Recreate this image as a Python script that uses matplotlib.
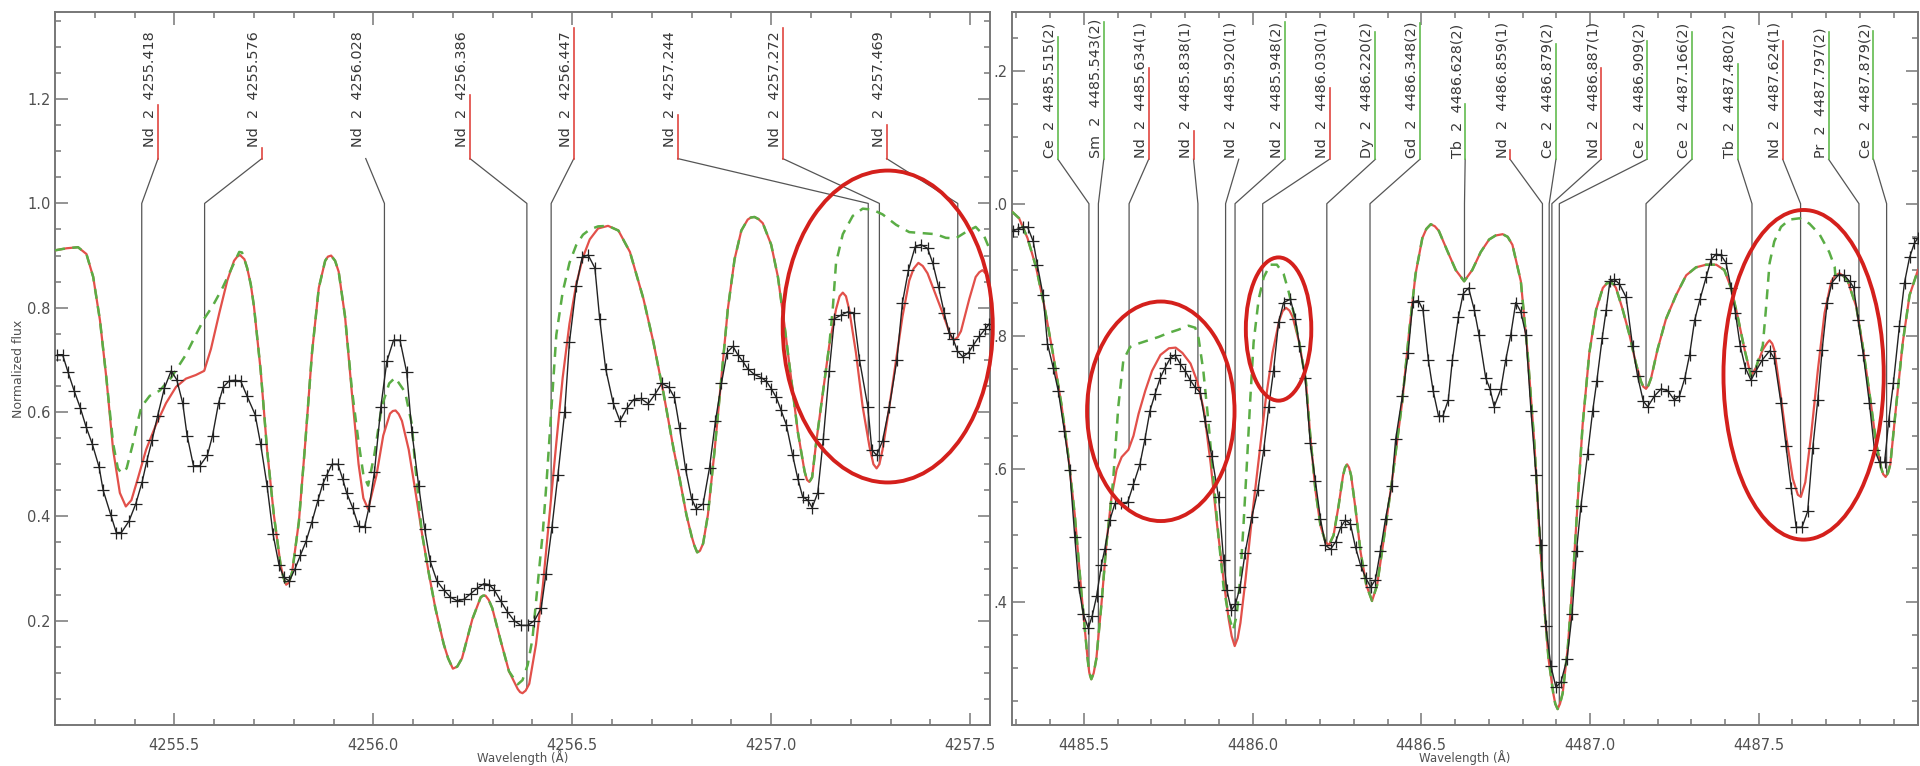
import numpy as np
import matplotlib
matplotlib.use("Agg")
import matplotlib.pyplot as plt
from matplotlib.patches import Ellipse
from matplotlib.ticker import MultipleLocator, FixedLocator, FixedFormatter
import matplotlib.transforms as mtransforms

# ---------------- left panel (4255-4257 A) ----------------
left_obs = np.array([
    [4255.206, 0.710], [4255.219, 0.710], [4255.233, 0.676], [4255.248, 0.641], [4255.264, 0.607],
    [4255.278, 0.572], [4255.294, 0.538], [4255.311, 0.494], [4255.321, 0.450], [4255.340, 0.403],
    [4255.354, 0.369], [4255.367, 0.369], [4255.386, 0.391], [4255.403, 0.424], [4255.419, 0.466],
    [4255.431, 0.507], [4255.444, 0.546], [4255.458, 0.593], [4255.475, 0.646], [4255.492, 0.679],
    [4255.506, 0.662], [4255.521, 0.617], [4255.532, 0.555], [4255.548, 0.497], [4255.564, 0.497],
    [4255.583, 0.517], [4255.596, 0.555], [4255.611, 0.617], [4255.623, 0.648], [4255.638, 0.660],
    [4255.653, 0.661], [4255.667, 0.659], [4255.683, 0.630], [4255.703, 0.595], [4255.717, 0.538],
    [4255.733, 0.459], [4255.748, 0.366], [4255.763, 0.307], [4255.775, 0.283], [4255.789, 0.276],
    [4255.803, 0.299], [4255.817, 0.326], [4255.831, 0.352], [4255.846, 0.390], [4255.861, 0.431],
    [4255.873, 0.462], [4255.883, 0.479], [4255.896, 0.500], [4255.911, 0.500], [4255.923, 0.472],
    [4255.933, 0.445], [4255.948, 0.417], [4255.963, 0.381], [4255.978, 0.379], [4255.990, 0.420],
    [4256.003, 0.486], [4256.019, 0.610], [4256.034, 0.697], [4256.051, 0.738], [4256.067, 0.738],
    [4256.084, 0.676], [4256.097, 0.562], [4256.114, 0.459], [4256.129, 0.376], [4256.143, 0.314],
    [4256.160, 0.276], [4256.177, 0.259], [4256.194, 0.245], [4256.211, 0.238], [4256.228, 0.241],
    [4256.245, 0.252], [4256.261, 0.262], [4256.278, 0.271], [4256.291, 0.269], [4256.304, 0.259],
    [4256.320, 0.238], [4256.337, 0.217], [4256.354, 0.200], [4256.371, 0.191], [4256.388, 0.191],
    [4256.405, 0.200], [4256.422, 0.224], [4256.434, 0.290], [4256.449, 0.379], [4256.464, 0.479],
    [4256.481, 0.600], [4256.493, 0.734], [4256.510, 0.841], [4256.525, 0.897], [4256.540, 0.901],
    [4256.557, 0.876], [4256.569, 0.779], [4256.584, 0.683], [4256.603, 0.617], [4256.620, 0.583],
    [4256.637, 0.607], [4256.654, 0.624], [4256.672, 0.626], [4256.691, 0.616], [4256.708, 0.634],
    [4256.725, 0.655], [4256.742, 0.648], [4256.757, 0.628], [4256.770, 0.569], [4256.785, 0.490],
    [4256.800, 0.434], [4256.812, 0.414], [4256.829, 0.424], [4256.845, 0.493], [4256.860, 0.583],
    [4256.875, 0.655], [4256.889, 0.714], [4256.904, 0.726], [4256.916, 0.710], [4256.929, 0.697],
    [4256.941, 0.683], [4256.958, 0.672], [4256.975, 0.666], [4256.988, 0.659], [4257.000, 0.645],
    [4257.013, 0.628], [4257.025, 0.603], [4257.038, 0.576], [4257.054, 0.517], [4257.067, 0.472],
    [4257.079, 0.438], [4257.092, 0.431], [4257.103, 0.417], [4257.117, 0.445], [4257.131, 0.548],
    [4257.146, 0.679], [4257.159, 0.779], [4257.176, 0.786], [4257.192, 0.792], [4257.207, 0.790],
    [4257.222, 0.700], [4257.243, 0.610], [4257.253, 0.528], [4257.265, 0.517], [4257.280, 0.545],
    [4257.297, 0.610], [4257.316, 0.700], [4257.330, 0.810], [4257.345, 0.872], [4257.362, 0.917],
    [4257.376, 0.921], [4257.393, 0.914], [4257.406, 0.886], [4257.421, 0.839], [4257.435, 0.790],
    [4257.447, 0.752], [4257.457, 0.741], [4257.468, 0.717], [4257.482, 0.706], [4257.496, 0.714],
    [4257.508, 0.728], [4257.523, 0.745], [4257.538, 0.759], [4257.548, 0.769]])

# synthetic spectrum with Nd (solid red)
left_red = np.array([
    [4255.200, 0.910], [4255.229, 0.914], [4255.258, 0.916], [4255.279, 0.903], [4255.296, 0.859],
    [4255.313, 0.776], [4255.329, 0.666], [4255.346, 0.528], [4255.363, 0.445], [4255.378, 0.419],
    [4255.392, 0.431], [4255.408, 0.472], [4255.429, 0.528], [4255.454, 0.576], [4255.479, 0.617],
    [4255.504, 0.648], [4255.529, 0.664], [4255.554, 0.671], [4255.575, 0.679], [4255.592, 0.721],
    [4255.613, 0.790], [4255.633, 0.852], [4255.650, 0.890], [4255.658, 0.898], [4255.665, 0.901],
    [4255.676, 0.893], [4255.683, 0.876], [4255.692, 0.845], [4255.700, 0.803], [4255.717, 0.679],
    [4255.733, 0.528], [4255.750, 0.403], [4255.767, 0.307], [4255.774, 0.283], [4255.781, 0.269],
    [4255.788, 0.273], [4255.796, 0.293], [4255.813, 0.390], [4255.829, 0.541], [4255.846, 0.714],
    [4255.863, 0.838], [4255.879, 0.890], [4255.886, 0.898], [4255.894, 0.900], [4255.904, 0.890],
    [4255.913, 0.869], [4255.929, 0.783], [4255.946, 0.638], [4255.963, 0.500], [4255.975, 0.435],
    [4255.987, 0.414], [4256.008, 0.479], [4256.025, 0.555], [4256.042, 0.597], [4256.049, 0.602],
    [4256.056, 0.603], [4256.064, 0.596], [4256.072, 0.583], [4256.089, 0.528], [4256.105, 0.452],
    [4256.122, 0.369], [4256.139, 0.293], [4256.156, 0.224], [4256.177, 0.155], [4256.188, 0.128],
    [4256.200, 0.108], [4256.211, 0.112], [4256.223, 0.128], [4256.249, 0.203], [4256.270, 0.245],
    [4256.276, 0.248], [4256.282, 0.248], [4256.290, 0.240], [4256.299, 0.224], [4256.320, 0.162],
    [4256.341, 0.103], [4256.363, 0.069], [4256.369, 0.063], [4256.375, 0.061], [4256.383, 0.066],
    [4256.392, 0.079], [4256.409, 0.155], [4256.426, 0.266], [4256.443, 0.403], [4256.460, 0.541],
    [4256.476, 0.666], [4256.493, 0.769], [4256.510, 0.845], [4256.527, 0.897], [4256.544, 0.931],
    [4256.565, 0.952], [4256.590, 0.957], [4256.616, 0.948], [4256.645, 0.907], [4256.679, 0.817],
    [4256.704, 0.734], [4256.729, 0.638], [4256.755, 0.528], [4256.770, 0.472], [4256.787, 0.403],
    [4256.800, 0.362], [4256.807, 0.344], [4256.814, 0.331], [4256.821, 0.334], [4256.829, 0.348],
    [4256.841, 0.403], [4256.858, 0.528], [4256.875, 0.666], [4256.891, 0.797], [4256.908, 0.893],
    [4256.925, 0.948], [4256.941, 0.969], [4256.949, 0.973], [4256.958, 0.974], [4256.968, 0.970],
    [4256.979, 0.962], [4257.000, 0.921], [4257.017, 0.859], [4257.033, 0.769], [4257.050, 0.666],
    [4257.067, 0.562], [4257.084, 0.486], [4257.090, 0.470], [4257.096, 0.466], [4257.103, 0.475],
    [4257.113, 0.541], [4257.130, 0.638], [4257.146, 0.728], [4257.163, 0.797], [4257.172, 0.822],
    [4257.180, 0.829], [4257.188, 0.822], [4257.196, 0.797], [4257.213, 0.714], [4257.230, 0.610],
    [4257.247, 0.534], [4257.257, 0.500], [4257.265, 0.492], [4257.272, 0.500], [4257.280, 0.528],
    [4257.297, 0.610], [4257.314, 0.700], [4257.330, 0.783], [4257.347, 0.852], [4257.358, 0.875],
    [4257.370, 0.886], [4257.381, 0.880], [4257.393, 0.866], [4257.414, 0.824], [4257.431, 0.790],
    [4257.447, 0.755], [4257.454, 0.742], [4257.460, 0.738], [4257.468, 0.743], [4257.477, 0.755],
    [4257.498, 0.817], [4257.514, 0.859], [4257.523, 0.868], [4257.531, 0.872], [4257.539, 0.866],
    [4257.548, 0.852]])

# synthetic spectrum without Nd (green dashed) where it departs from the red one
left_grn_parts = [
    np.array([[4255.346, 0.540], [4255.358, 0.492], [4255.367, 0.483], [4255.380, 0.492],
              [4255.396, 0.540], [4255.404, 0.569], [4255.417, 0.610], [4255.438, 0.631],
              [4255.463, 0.641], [4255.492, 0.666], [4255.529, 0.710], [4255.554, 0.748],
              [4255.575, 0.779], [4255.596, 0.803], [4255.621, 0.838], [4255.646, 0.879],
              [4255.663, 0.907], [4255.670, 0.906]]),
    np.array([[4255.946, 0.645], [4255.962, 0.548], [4255.975, 0.480], [4255.987, 0.459],
              [4256.003, 0.520], [4256.021, 0.610], [4256.040, 0.655], [4256.055, 0.666],
              [4256.080, 0.638], [4256.097, 0.576], [4256.105, 0.500], [4256.114, 0.430]]),
    np.array([[4256.363, 0.078], [4256.375, 0.086], [4256.388, 0.115], [4256.400, 0.165],
              [4256.417, 0.300], [4256.426, 0.369], [4256.436, 0.472], [4256.448, 0.610],
              [4256.460, 0.748], [4256.476, 0.830], [4256.493, 0.886], [4256.510, 0.920],
              [4256.527, 0.940], [4256.544, 0.950], [4256.565, 0.956]]),
    np.array([[4257.150, 0.760], [4257.155, 0.800], [4257.163, 0.886], [4257.180, 0.941],
              [4257.205, 0.976], [4257.230, 0.990], [4257.255, 0.988], [4257.280, 0.979],
              [4257.314, 0.959], [4257.347, 0.945], [4257.380, 0.943], [4257.414, 0.941],
              [4257.439, 0.934], [4257.464, 0.933], [4257.489, 0.945], [4257.514, 0.955],
              [4257.535, 0.938], [4257.548, 0.914]]),
]

left_line_wl = [4255.418, 4255.576, 4256.028, 4256.386, 4256.447, 4257.244, 4257.272, 4257.469]
left_line_species = ["Nd"] * 8
left_label_x = [4255.459, 4255.720, 4255.981, 4256.243, 4256.504, 4256.765, 4257.029, 4257.290]
left_tick_top = [1.189, 1.107, 1.086, 1.208, 1.336, 1.170, 1.336, 1.151]

# ---------------- right panel (4485-4488 A) ----------------
right_obs = np.array([
    [4485.290, 0.959], [4485.305, 0.962], [4485.320, 0.965], [4485.333, 0.965], [4485.350, 0.943],
    [4485.362, 0.908], [4485.379, 0.862], [4485.392, 0.789], [4485.409, 0.753], [4485.424, 0.718],
    [4485.442, 0.658], [4485.458, 0.599], [4485.473, 0.498], [4485.485, 0.422], [4485.498, 0.382],
    [4485.513, 0.360], [4485.525, 0.379], [4485.538, 0.409], [4485.552, 0.455], [4485.562, 0.479],
    [4485.577, 0.523], [4485.592, 0.548], [4485.610, 0.548], [4485.630, 0.550], [4485.647, 0.577],
    [4485.666, 0.607], [4485.681, 0.645], [4485.696, 0.688], [4485.711, 0.713], [4485.726, 0.737],
    [4485.741, 0.753], [4485.756, 0.767], [4485.770, 0.772], [4485.785, 0.759], [4485.800, 0.748],
    [4485.815, 0.734], [4485.830, 0.723], [4485.845, 0.715], [4485.859, 0.672], [4485.879, 0.620],
    [4485.899, 0.558], [4485.914, 0.463], [4485.924, 0.417], [4485.937, 0.387], [4485.949, 0.396],
    [4485.963, 0.422], [4485.978, 0.474], [4485.998, 0.528], [4486.016, 0.569], [4486.033, 0.629],
    [4486.048, 0.694], [4486.062, 0.748], [4486.077, 0.821], [4486.092, 0.851], [4486.112, 0.856],
    [4486.127, 0.826], [4486.139, 0.786], [4486.156, 0.737], [4486.171, 0.639], [4486.186, 0.582],
    [4486.201, 0.525], [4486.216, 0.485], [4486.231, 0.479], [4486.246, 0.490], [4486.261, 0.512],
    [4486.275, 0.523], [4486.290, 0.517], [4486.305, 0.482], [4486.320, 0.455], [4486.335, 0.436],
    [4486.350, 0.422], [4486.364, 0.433], [4486.379, 0.477], [4486.394, 0.525], [4486.412, 0.574],
    [4486.424, 0.645], [4486.444, 0.710], [4486.461, 0.775], [4486.475, 0.852], [4486.491, 0.854],
    [4486.505, 0.840], [4486.521, 0.764], [4486.535, 0.718], [4486.551, 0.680], [4486.564, 0.680],
    [4486.580, 0.704], [4486.592, 0.764], [4486.610, 0.829], [4486.624, 0.864], [4486.640, 0.873],
    [4486.657, 0.840], [4486.671, 0.802], [4486.691, 0.737], [4486.704, 0.720], [4486.716, 0.694],
    [4486.736, 0.721], [4486.750, 0.764], [4486.765, 0.802], [4486.780, 0.851], [4486.795, 0.837],
    [4486.810, 0.802], [4486.825, 0.688], [4486.840, 0.591], [4486.854, 0.485], [4486.869, 0.363],
    [4486.884, 0.303], [4486.899, 0.271], [4486.914, 0.279], [4486.932, 0.314], [4486.947, 0.382],
    [4486.960, 0.477], [4486.973, 0.544], [4486.993, 0.623], [4487.008, 0.688], [4487.020, 0.732],
    [4487.036, 0.797], [4487.048, 0.840], [4487.059, 0.883], [4487.072, 0.886], [4487.087, 0.879],
    [4487.107, 0.859], [4487.126, 0.786], [4487.141, 0.740], [4487.158, 0.702], [4487.171, 0.694],
    [4487.191, 0.710], [4487.211, 0.721], [4487.230, 0.718], [4487.250, 0.704], [4487.265, 0.710],
    [4487.281, 0.737], [4487.295, 0.772], [4487.310, 0.824], [4487.326, 0.856], [4487.344, 0.889],
    [4487.359, 0.916], [4487.374, 0.924], [4487.388, 0.922], [4487.403, 0.911], [4487.418, 0.873],
    [4487.431, 0.835], [4487.445, 0.786], [4487.460, 0.753], [4487.477, 0.734], [4487.492, 0.748],
    [4487.510, 0.764], [4487.532, 0.778], [4487.546, 0.767], [4487.566, 0.699], [4487.581, 0.634],
    [4487.596, 0.572], [4487.611, 0.512], [4487.628, 0.512], [4487.645, 0.536], [4487.660, 0.631],
    [4487.675, 0.704], [4487.688, 0.780], [4487.703, 0.851], [4487.717, 0.881], [4487.737, 0.893],
    [4487.754, 0.892], [4487.769, 0.883], [4487.781, 0.874], [4487.795, 0.824], [4487.810, 0.772],
    [4487.828, 0.699], [4487.843, 0.629], [4487.858, 0.610], [4487.873, 0.610], [4487.885, 0.672],
    [4487.899, 0.729], [4487.917, 0.816], [4487.932, 0.881], [4487.947, 0.919], [4487.961, 0.940],
    [4487.971, 0.948]])

right_red = np.array([
    [4485.287, 0.988], [4485.308, 0.978], [4485.333, 0.948], [4485.358, 0.905], [4485.383, 0.845],
    [4485.408, 0.775], [4485.433, 0.699], [4485.453, 0.623], [4485.473, 0.531], [4485.493, 0.412],
    [4485.511, 0.314], [4485.516, 0.293], [4485.522, 0.283], [4485.529, 0.292], [4485.537, 0.314],
    [4485.552, 0.396], [4485.567, 0.488], [4485.582, 0.558], [4485.597, 0.599], [4485.612, 0.618],
    [4485.632, 0.629], [4485.647, 0.650], [4485.662, 0.683], [4485.682, 0.718], [4485.702, 0.748],
    [4485.727, 0.772], [4485.752, 0.782], [4485.772, 0.783], [4485.792, 0.775], [4485.816, 0.759],
    [4485.836, 0.732], [4485.856, 0.688], [4485.876, 0.607], [4485.895, 0.515], [4485.914, 0.433],
    [4485.929, 0.374], [4485.938, 0.348], [4485.947, 0.333], [4485.956, 0.345], [4485.964, 0.368],
    [4485.979, 0.433], [4485.999, 0.531], [4486.019, 0.618], [4486.039, 0.705], [4486.059, 0.775],
    [4486.079, 0.824], [4486.089, 0.838], [4486.099, 0.843], [4486.109, 0.839], [4486.119, 0.829],
    [4486.138, 0.791], [4486.158, 0.732], [4486.171, 0.650], [4486.186, 0.569], [4486.201, 0.515],
    [4486.216, 0.490], [4486.226, 0.485], [4486.240, 0.500], [4486.255, 0.545], [4486.268, 0.590],
    [4486.274, 0.602], [4486.280, 0.607], [4486.286, 0.602], [4486.292, 0.590], [4486.305, 0.540],
    [4486.320, 0.475], [4486.337, 0.425], [4486.354, 0.401], [4486.369, 0.425], [4486.384, 0.477],
    [4486.414, 0.585], [4486.444, 0.704], [4486.463, 0.802], [4486.483, 0.894], [4486.503, 0.948],
    [4486.515, 0.962], [4486.528, 0.969], [4486.540, 0.966], [4486.552, 0.959], [4486.577, 0.929],
    [4486.602, 0.900], [4486.627, 0.883], [4486.651, 0.900], [4486.676, 0.927], [4486.701, 0.946],
    [4486.720, 0.952], [4486.741, 0.954], [4486.756, 0.950], [4486.770, 0.938], [4486.795, 0.883],
    [4486.815, 0.775], [4486.835, 0.639], [4486.850, 0.504], [4486.864, 0.396], [4486.877, 0.314],
    [4486.891, 0.262], [4486.897, 0.246], [4486.904, 0.238], [4486.911, 0.246], [4486.919, 0.262],
    [4486.934, 0.330], [4486.949, 0.433], [4486.963, 0.547], [4486.978, 0.666], [4486.998, 0.775],
    [4487.018, 0.840], [4487.038, 0.873], [4487.050, 0.880], [4487.062, 0.881], [4487.070, 0.878],
    [4487.077, 0.873], [4487.097, 0.840], [4487.117, 0.802], [4487.136, 0.759], [4487.151, 0.732],
    [4487.158, 0.724], [4487.166, 0.721], [4487.173, 0.726], [4487.181, 0.737], [4487.200, 0.780],
    [4487.225, 0.826], [4487.255, 0.862], [4487.285, 0.892], [4487.314, 0.904], [4487.344, 0.908],
    [4487.374, 0.908], [4487.398, 0.900], [4487.418, 0.873], [4487.438, 0.829], [4487.458, 0.780],
    [4487.477, 0.740], [4487.492, 0.753], [4487.512, 0.780], [4487.525, 0.790], [4487.532, 0.794],
    [4487.540, 0.789], [4487.546, 0.780], [4487.561, 0.726], [4487.581, 0.650], [4487.601, 0.585],
    [4487.616, 0.561], [4487.625, 0.558], [4487.638, 0.580], [4487.655, 0.650], [4487.675, 0.748],
    [4487.695, 0.835], [4487.715, 0.883], [4487.727, 0.892], [4487.739, 0.895], [4487.751, 0.891],
    [4487.764, 0.883], [4487.789, 0.845], [4487.808, 0.786], [4487.828, 0.715], [4487.848, 0.639],
    [4487.863, 0.601], [4487.869, 0.592], [4487.876, 0.588], [4487.883, 0.594], [4487.890, 0.607],
    [4487.907, 0.694], [4487.927, 0.791], [4487.947, 0.862], [4487.972, 0.900]])

right_grn_parts = [
    np.array([[4485.587, 0.585], [4485.602, 0.694], [4485.617, 0.764], [4485.637, 0.784],
              [4485.661, 0.789], [4485.691, 0.794], [4485.721, 0.799], [4485.750, 0.805],
              [4485.780, 0.810], [4485.810, 0.816], [4485.830, 0.813], [4485.840, 0.797],
              [4485.854, 0.748], [4485.869, 0.672], [4485.884, 0.585], [4485.899, 0.498],
              [4485.914, 0.422], [4485.929, 0.379], [4485.942, 0.357], [4485.953, 0.379],
              [4485.963, 0.433], [4485.973, 0.515], [4485.983, 0.607], [4485.993, 0.704],
              [4486.003, 0.791], [4486.018, 0.856], [4486.033, 0.889], [4486.052, 0.908],
              [4486.072, 0.908], [4486.092, 0.894], [4486.107, 0.867], [4486.122, 0.835],
              [4486.130, 0.812]]),
    np.array([[4487.512, 0.786], [4487.522, 0.845], [4487.532, 0.910], [4487.546, 0.943],
              [4487.566, 0.965], [4487.591, 0.976], [4487.621, 0.978], [4487.650, 0.970],
              [4487.680, 0.954], [4487.709, 0.927], [4487.725, 0.905]]),
]

right_line_wl = [4485.515, 4485.543, 4485.634, 4485.838, 4485.920, 4485.948, 4486.030, 4486.220,
                 4486.348, 4486.628, 4486.859, 4486.879, 4486.887, 4486.909, 4487.166, 4487.480,
                 4487.624, 4487.797, 4487.879]
right_line_species = ["Ce", "Sm", "Nd", "Nd", "Nd", "Nd", "Nd", "Dy", "Gd", "Tb", "Nd", "Ce",
                      "Nd", "Ce", "Ce", "Tb", "Nd", "Pr", "Ce"]
right_line_flag = [2, 2, 1, 1, 1, 2, 1, 2, 2, 2, 1, 2, 1, 2, 2, 2, 1, 2, 2]
right_label_x = [4485.423, 4485.559, 4485.692, 4485.825, 4485.959, 4486.095, 4486.228, 4486.364,
                 4486.496, 4486.630, 4486.763, 4486.899, 4487.033, 4487.169, 4487.302, 4487.438,
                 4487.571, 4487.707, 4487.840]
right_tick_top = [1.251, 1.274, 1.204, 1.109, 1.067, 1.274, 1.174, 1.259, 1.272, 1.151, 1.081,
                  1.241, 1.204, 1.246, 1.259, 1.211, 1.246, 1.259, 1.261]

left_xticks = [4255.5, 4256.0, 4256.5, 4257.0, 4257.5]
left_xticklabels = ["4255.5", "4256.0", "4256.5", "4257.0", "4257.5"]
left_yticks = [0.2, 0.4, 0.6, 0.8, 1.0, 1.2]
left_yticklabels = ["0.2", "0.4", "0.6", "0.8", "1.0", "1.2"]
right_xticks = [4485.5, 4486.0, 4486.5, 4487.0, 4487.5]
right_xticklabels = ["4485.5", "4486.0", "4486.5", "4487.0", "4487.5"]
right_yticks = [0.4, 0.6, 0.8, 1.0, 1.2]
right_yticklabels = [".4", ".6", ".8", ".0", ".2"]

# hand-drawn circles: (centre x, centre y, width, height) in data units
left_circles = [(4257.293, 0.764, 0.528, 0.598)]
right_circles = [(4485.728, 0.687, 0.437, 0.331),
                 (4486.077, 0.811, 0.194, 0.216),
                 (4487.633, 0.742, 0.475, 0.497)]

RED = "#e2504a"
GREEN = "#5aad45"
TICK_RED = "#e0463f"
TICK_GREEN = "#62bb4f"
GREY = "#555555"
CIRCLE = "#d4201c"

fig = plt.figure(figsize=(19.2, 7.66), dpi=100)
axL = fig.add_axes([55 / 1920, 41 / 766, 935 / 1920, 713 / 766])
axR = fig.add_axes([1012 / 1920, 41 / 766, 906 / 1920, 713 / 766])


def merge_green(red, parts):
    # green follows the red curve except inside the windows where it was read separately
    keep = np.ones(len(red), dtype=bool)
    for p in parts:
        keep &= ~((red[:, 0] >= p[0, 0]) & (red[:, 0] <= p[-1, 0]))
    g = np.vstack([red[keep]] + parts)
    return g[np.argsort(g[:, 0])]


def style_axes(ax, xlim, ylim, xt, xtl, yt, ytl):
    ax.set_xlim(*xlim)
    ax.set_ylim(*ylim)
    ax.xaxis.set_major_locator(FixedLocator(xt))
    ax.xaxis.set_major_formatter(FixedFormatter(xtl))
    ax.yaxis.set_major_locator(FixedLocator(yt))
    ax.yaxis.set_major_formatter(FixedFormatter(ytl))
    ax.xaxis.set_minor_locator(MultipleLocator(0.1))
    ax.yaxis.set_minor_locator(MultipleLocator(0.05))
    ax.tick_params(which="both", direction="in", top=True, right=True,
                   color="#777777", width=1.1, labelcolor="#505050", labelsize=10.5)
    ax.tick_params(which="major", length=9)
    ax.tick_params(which="minor", length=4.5)
    ax.tick_params(axis="x", pad=9)
    ax.tick_params(axis="y", pad=3)
    for sp in ax.spines.values():
        sp.set_color("#777777")
        sp.set_linewidth(1.4)
    ax.set_xlabel("Wavelength (Å)", fontsize=8.5, color="#505050", labelpad=-2)


def draw_panel(ax, obs, red, grn, wl, texts, lab_x, tops, cols, y_base, y_text):
    txt_tr = mtransforms.offset_copy(ax.transData, fig=fig, x=-1, y=0, units="dots")
    for i in range(len(wl)):
        y_end = np.interp(wl[i], red[:, 0], red[:, 1])
        ax.plot([lab_x[i], wl[i], wl[i]], [y_base, 1.0, y_end], color=GREY, lw=0.9, zorder=1)
        if tops[i] > y_base + 0.002:
            ax.plot([lab_x[i], lab_x[i]], [y_base, tops[i]], color=cols[i], lw=1.2, zorder=2)
        ax.text(lab_x[i], y_text, texts[i], transform=txt_tr, rotation=90, ha="right",
                va="bottom", fontsize=10.4, color="#383838")
    ax.plot(red[:, 0], red[:, 1], color=RED, lw=1.6, zorder=3)
    ax.plot(grn[:, 0], grn[:, 1], color=GREEN, lw=1.8, dashes=(4, 3), zorder=4)
    ax.plot(obs[:, 0], obs[:, 1], color="#222222", lw=1.0, marker="+", ms=9, mew=0.9, zorder=5)


style_axes(axL, (4255.2, 4257.55), (0.0, 1.367), left_xticks, left_xticklabels,
           left_yticks, left_yticklabels)
style_axes(axR, (4485.287, 4487.972), (0.214, 1.289), right_xticks, right_xticklabels,
           right_yticks, right_yticklabels)
axL.set_ylabel("Normalized flux", fontsize=9, color="#505050", labelpad=2)

left_texts = [f"{s}  2  {w:.3f}" for s, w in zip(left_line_species, left_line_wl)]
draw_panel(axL, left_obs, left_red, merge_green(left_red, left_grn_parts), left_line_wl,
           left_texts, left_label_x, left_tick_top, [TICK_RED] * len(left_line_wl),
           1.086, 1.109)

right_texts = [f"{s}  2  {w:.3f}({f})" for s, w, f in
               zip(right_line_species, right_line_wl, right_line_flag)]
right_cols = [TICK_RED if f == 1 else TICK_GREEN for f in right_line_flag]
draw_panel(axR, right_obs, right_red, merge_green(right_red, right_grn_parts), right_line_wl,
           right_texts, right_label_x, right_tick_top, right_cols, 1.067, 1.069)

for ax, circles in ((axL, left_circles), (axR, right_circles)):
    for cx, cy, w, h in circles:
        ax.add_patch(Ellipse((cx, cy), w, h, fill=False, ec=CIRCLE, lw=2.8,
                             zorder=6, clip_on=False))

fig.savefig("out.png", dpi=100)
